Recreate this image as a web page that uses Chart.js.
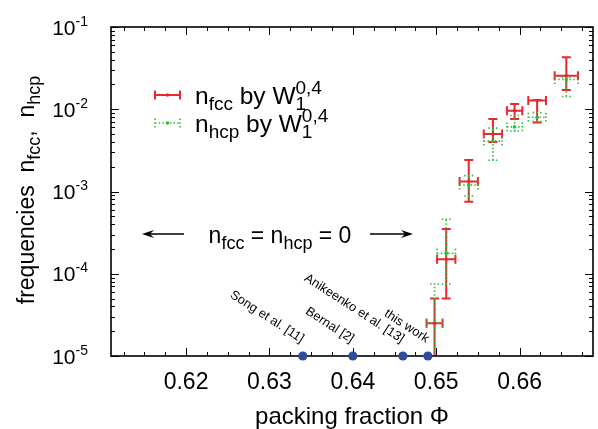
<!DOCTYPE html>
<html>
<head>
<meta charset="utf-8">
<script src="https://cdn.jsdelivr.net/npm/chart.js@4.4.0/dist/chart.umd.min.js"></script>
<style>
html, body { margin: 0; padding: 0; background: #fff; }
#wrap { width: 598px; height: 429px; position: relative; }
</style>
</head>
<body>
<div id="wrap"><canvas id="chart"></canvas></div>
<script>
const FONT = '"Liberation Sans", Arial, Helvetica, sans-serif';
const RED = '#e8282c';
const GREEN = '#2fbb3a';
const BLUE = '#2f4c9c';

// bins in packing fraction, half width of each bin
const phi    = [0.6498, 0.6512, 0.6539, 0.6568, 0.6594, 0.6621, 0.6656];
const phiErr = [0.00096, 0.0011, 0.0011, 0.0011, 0.00092, 0.00106, 0.0014];

// n_fcc with lower / upper error
const nFcc  = [2.5e-5, 1.5e-4, 1.32e-3, 5.0e-3, 9.6e-3, 1.28e-2, 2.55e-2];
const fccLo = [5e-6,   5.0e-5, 7.5e-4,  4.0e-3, 7.6e-3, 6.9e-3,  1.72e-2];
const fccHi = [5.0e-5, 3.5e-4, 2.42e-3, 7.6e-3, 1.16e-2, 1.3e-2, 4.3e-2];

// n_hcp with lower / upper error
const nHcp  = [2.5e-5, 1.77e-4, 1.2e-3,  4.1e-3, 6.1e-3, 8.0e-3, 2.3e-2];
const hcpLo = [5e-6,   7.5e-5,  8.8e-4,  2.4e-3, 5.4e-3, 7.1e-3, 1.43e-2];
const hcpHi = [7.5e-5, 4.6e-4,  1.56e-3, 5.9e-3, 8.4e-3, 9.1e-3, 2.45e-2];

// literature values marked on the axis
const refLabels = ['Song et al. [11]', 'Bernal [2]', 'Anikeenko et al. [13]', 'this work'];
const refPhi = [0.634, 0.640, 0.646, 0.649];

const xTicks = [0.62, 0.63, 0.64, 0.65, 0.66];
const yDecades = [-5, -4, -3, -2, -1];

// --- text with sub/superscripts: parts = [text, kind, keep] ---
let subRatio = 0.78;
function partFont(kind, size) {
    const s = kind === 'n' ? size : Math.round(size * subRatio);
    return s + 'px ' + FONT;
}
function richWidth(ctx, parts, size) {
    let w = 0;
    parts.forEach(([t, k, keep]) => {
        ctx.font = partFont(k, size);
        if (!keep) w += ctx.measureText(t).width;
    });
    return w;
}
function drawRich(ctx, parts, x, y, size) {
    ctx.textAlign = 'left';
    ctx.textBaseline = 'alphabetic';
    parts.forEach(([t, k, keep]) => {
        ctx.font = partFont(k, size);
        let dy = 0;
        if (k === 'b') dy = size * 0.26;
        if (k === 'p') dy = -size * 0.42;
        ctx.fillText(t, x, y + dy);
        if (!keep) x += ctx.measureText(t).width;
    });
}

function arrow(ctx, x1, x2, y) {
    const dir = Math.sign(x2 - x1);
    ctx.beginPath();
    ctx.moveTo(x1, y);
    ctx.lineTo(x2 - dir * 6, y);
    ctx.stroke();
    ctx.beginPath();
    ctx.moveTo(x2, y);
    ctx.lineTo(x2 - dir * 12, y - 4);
    ctx.lineTo(x2 - dir * 8, y);
    ctx.lineTo(x2 - dir * 12, y + 4);
    ctx.closePath();
    ctx.fill();
}

function errBars(chart, ys, lo, hi, color, dash, lw) {
    const ctx = chart.ctx, x = chart.scales.x, y = chart.scales.y;
    const c = 4.5;
    ctx.save();
    ctx.strokeStyle = color;
    ctx.lineWidth = lw;
    ctx.setLineDash(dash);
    phi.forEach((p, i) => {
        const px = x.getPixelForValue(p), py = y.getPixelForValue(ys[i]);
        const x1 = x.getPixelForValue(p - phiErr[i]), x2 = x.getPixelForValue(p + phiErr[i]);
        const y1 = y.getPixelForValue(lo[i]), y2 = y.getPixelForValue(hi[i]);
        ctx.beginPath();
        ctx.moveTo(px, y1); ctx.lineTo(px, y2);
        ctx.moveTo(px - c, y1); ctx.lineTo(px + c, y1);
        ctx.moveTo(px - c, y2); ctx.lineTo(px + c, y2);
        ctx.moveTo(x1, py); ctx.lineTo(x2, py);
        ctx.moveTo(x1, py - c); ctx.lineTo(x1, py + c);
        ctx.moveTo(x2, py - c); ctx.lineTo(x2, py + c);
        ctx.stroke();
    });
    ctx.restore();
}

function legendSample(ctx, x1, x2, y, color, dash, lw) {
    ctx.save();
    ctx.strokeStyle = color;
    ctx.fillStyle = color;
    ctx.lineWidth = lw;
    ctx.setLineDash(dash);
    ctx.beginPath();
    ctx.moveTo(x1, y); ctx.lineTo(x2, y);
    ctx.moveTo(x1, y - 4.5); ctx.lineTo(x1, y + 4.5);
    ctx.moveTo(x2, y - 4.5); ctx.lineTo(x2, y + 4.5);
    ctx.stroke();
    ctx.beginPath();
    ctx.arc((x1 + x2) / 2, y, 1.8, 0, Math.PI * 2);
    ctx.fill();
    ctx.restore();
}

const decor = {
    id: 'decor',
    beforeDatasetsDraw(chart) {
        const ctx = chart.ctx, a = chart.chartArea;
        ctx.save();
        ctx.beginPath();
        ctx.rect(a.left, a.top, a.right - a.left, a.bottom - a.top);
        ctx.clip();
        errBars(chart, nFcc, fccLo, fccHi, RED, [], 2);
        errBars(chart, nHcp, hcpLo, hcpHi, GREEN, [1.5, 2.2], 1.6);
        ctx.restore();
    },
    afterDatasetsDraw(chart) {
        const ctx = chart.ctx, a = chart.chartArea;
        const x = chart.scales.x, y = chart.scales.y;
        ctx.save();
        ctx.fillStyle = '#000';
        ctx.strokeStyle = '#000';

        // ticks, all four sides, inward
        ctx.lineWidth = 1;
        ctx.beginPath();
        for (let v = 0.6125; v < 0.669; v += 0.0025) {
            const px = Math.round(x.getPixelForValue(v)) + 0.5;
            const major = Math.abs(v * 100 - Math.round(v * 100)) < 1e-6;
            const len = major ? 8 : 4;
            ctx.moveTo(px, a.bottom); ctx.lineTo(px, a.bottom - len);
            ctx.moveTo(px, a.top); ctx.lineTo(px, a.top + len);
        }
        yDecades.forEach(d => {
            for (let m = 1; m <= 9; m++) {
                const v = m * Math.pow(10, d);
                if (v > 0.1 + 1e-9) break;
                const py = Math.round(y.getPixelForValue(v)) + 0.5;
                const len = m === 1 ? 8 : 4;
                ctx.moveTo(a.left, py); ctx.lineTo(a.left + len, py);
                ctx.moveTo(a.right, py); ctx.lineTo(a.right - len, py);
            }
        });
        ctx.stroke();

        // frame
        ctx.lineWidth = 1.6;
        ctx.strokeRect(a.left, a.top, a.right - a.left, a.bottom - a.top);

        // x tick labels
        ctx.font = '23px ' + FONT;
        ctx.textAlign = 'center';
        ctx.textBaseline = 'alphabetic';
        xTicks.forEach(v => ctx.fillText(v.toFixed(2), x.getPixelForValue(v), 389));

        // x title
        ctx.font = '24px ' + FONT;
        ctx.fillText('packing fraction \u03A6', (a.left + a.right) / 2, 424);

        // y tick labels 10^d
        subRatio = 0.68;
        yDecades.forEach(d => {
            const parts = [['10', 'n'], [String(d), 'p']];
            const w = richWidth(ctx, parts, 21);
            drawRich(ctx, parts, 88 - w, y.getPixelForValue(Math.pow(10, d)) + 7.5, 21);
        });
        subRatio = 0.78;

        // y title
        ctx.save();
        ctx.translate(34, 190);
        ctx.rotate(-Math.PI / 2);
        const yt = [['frequencies  n', 'n'], ['fcc', 'b'], [',  n', 'n'], ['hcp', 'b']];
        drawRich(ctx, yt, -richWidth(ctx, yt, 23) / 2, 0, 23);
        ctx.restore();

        // legend
        legendSample(ctx, 155, 180, 95, RED, [], 2);
        legendSample(ctx, 155, 180, 123, GREEN, [1.5, 2.2], 1.6);
        ctx.fillStyle = '#000';
        drawRich(ctx, [['n', 'n'], ['fcc', 'b'], [' by W', 'n'], ['1', 'b', true], ['0,4', 'p']], 195, 104, 24.5);
        drawRich(ctx, [['n', 'n'], ['hcp', 'b'], [' by W', 'n'], ['1', 'b', true], ['0,4', 'p']], 195, 132, 24.5);

        // n_fcc = n_hcp = 0 with arrows
        const ann = [['n', 'n'], ['fcc', 'b'], [' = n', 'n'], ['hcp', 'b'], [' = 0', 'n']];
        drawRich(ctx, ann, 280 - richWidth(ctx, ann, 23) / 2, 243, 23);
        ctx.lineWidth = 1.3;
        arrow(ctx, 184, 142, 234);
        arrow(ctx, 370, 413, 234);

        // literature markers
        ctx.font = '12.8px ' + FONT;
        ctx.textAlign = 'right';
        refPhi.forEach((v, i) => {
            const px = x.getPixelForValue(v);
            ctx.save();
            ctx.translate(px - 2, a.bottom - 13);
            ctx.rotate(0.575);
            ctx.fillText(refLabels[i], 0, 0);
            ctx.restore();
        });
        ctx.fillStyle = BLUE;
        refPhi.forEach(v => {
            ctx.beginPath();
            ctx.arc(x.getPixelForValue(v), y.getPixelForValue(1e-5), 4.6, 0, Math.PI * 2);
            ctx.fill();
        });
        ctx.restore();
    }
};

new Chart(document.getElementById('chart'), {
    type: 'scatter',
    data: {
        datasets: [
            {
                label: 'n_fcc',
                data: phi.map((p, i) => ({ x: p, y: nFcc[i] })),
                backgroundColor: RED,
                borderColor: RED,
                pointRadius: 1.8,
                borderWidth: 0
            },
            {
                label: 'n_hcp',
                data: phi.map((p, i) => ({ x: p, y: nHcp[i] })),
                backgroundColor: GREEN,
                borderColor: GREEN,
                pointRadius: 1.8,
                borderWidth: 0
            }
        ]
    },
    options: {
        responsive: true,
        maintainAspectRatio: false,
        animation: false,
        layout: { padding: { left: 111, right: 5, top: 27, bottom: 73 } },
        scales: {
            x: { type: 'linear', min: 0.611, max: 0.6688, display: false },
            y: { type: 'logarithmic', min: 1e-5, max: 0.1, display: false }
        },
        plugins: { legend: { display: false }, tooltip: { enabled: false } }
    },
    plugins: [decor]
});
</script>
</body>
</html>
